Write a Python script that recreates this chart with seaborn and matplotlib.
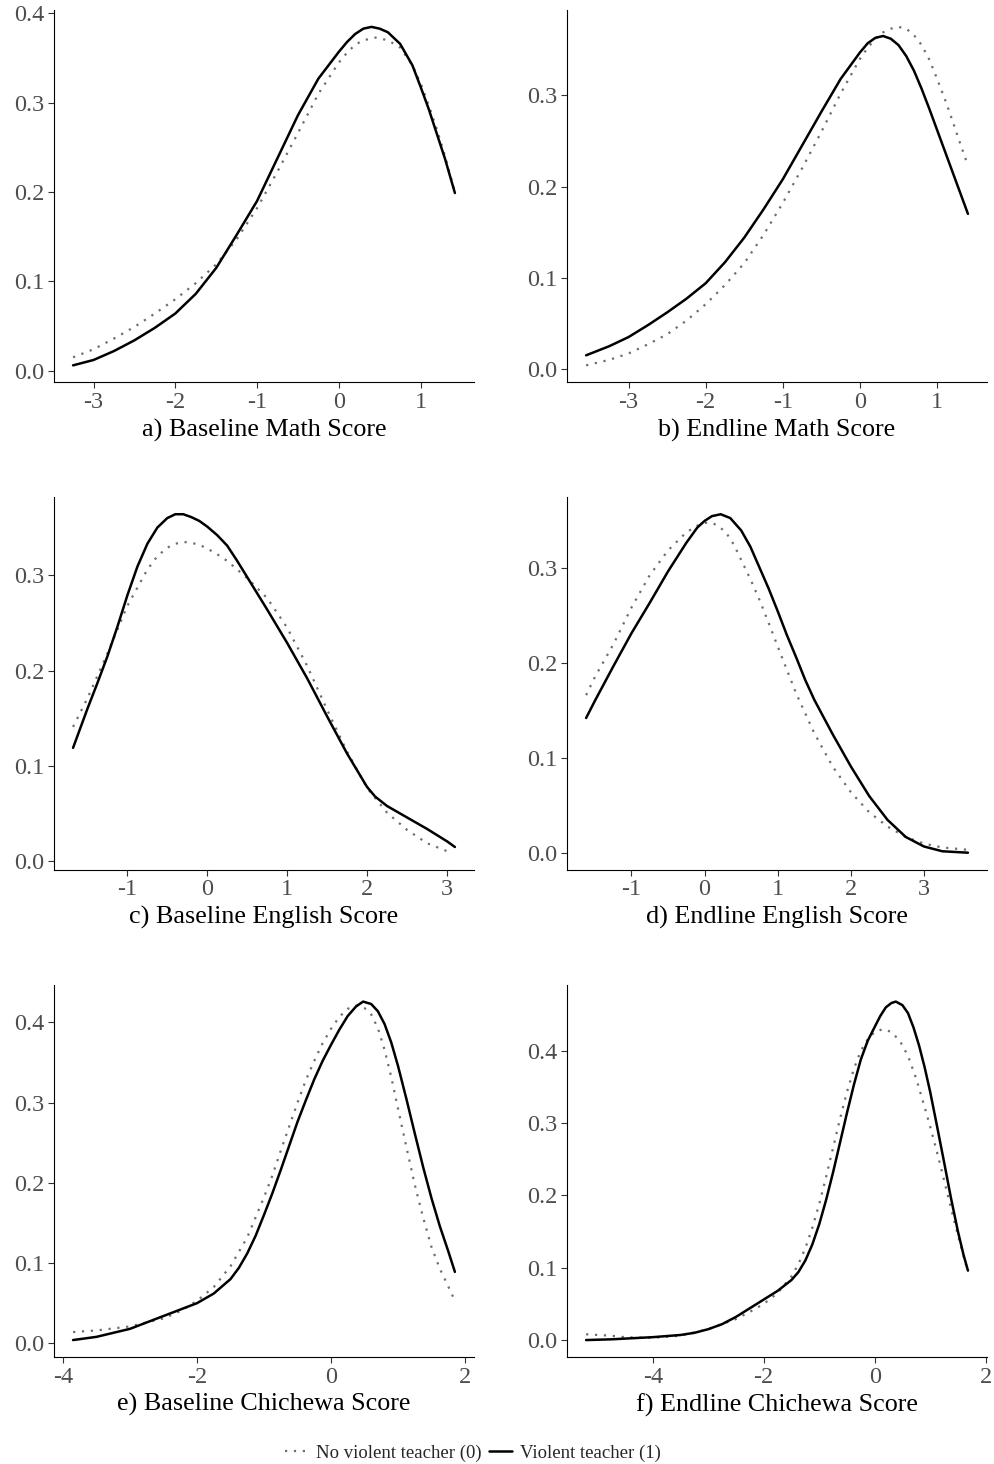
import matplotlib
matplotlib.use("Agg")
import matplotlib.pyplot as plt
from matplotlib.ticker import MultipleLocator, FormatStrFormatter
from matplotlib.lines import Line2D
import seaborn as sns

# Density curves: group 0 = no violent teacher, group 1 = violent teacher
# a) Baseline Math
a_x0 = [-3.25, -3.0, -2.75, -2.5, -2.25, -2.0, -1.75, -1.5, -1.25, -1.0, -0.75, -0.5, -0.25,
        0.0, 0.1, 0.2, 0.3, 0.45, 0.6, 0.75, 0.9, 1.0, 1.1, 1.2, 1.3, 1.42]
a_y0 = [0.015, 0.024, 0.036, 0.049, 0.064, 0.080, 0.098, 0.119, 0.147, 0.182, 0.223, 0.266, 0.310,
        0.345, 0.356, 0.365, 0.370, 0.373, 0.370, 0.362, 0.342, 0.322, 0.297, 0.270, 0.240, 0.200]
a_x1 = [-3.25, -3.0, -2.75, -2.5, -2.25, -2.0, -1.75, -1.5, -1.25, -1.0, -0.75, -0.5, -0.25,
        0.0, 0.1, 0.2, 0.3, 0.4, 0.5, 0.6, 0.75, 0.9, 1.0, 1.1, 1.2, 1.3, 1.42]
a_y1 = [0.006, 0.012, 0.022, 0.034, 0.048, 0.064, 0.086, 0.115, 0.152, 0.190, 0.238, 0.286, 0.327,
        0.357, 0.368, 0.377, 0.383, 0.385, 0.383, 0.379, 0.366, 0.342, 0.318, 0.293, 0.265, 0.237, 0.199]

# b) Endline Math
b_x0 = [-3.55, -3.25, -3.0, -2.75, -2.5, -2.25, -2.0, -1.75, -1.5, -1.25, -1.0, -0.75, -0.5,
        -0.25, 0.0, 0.1, 0.2, 0.3, 0.4, 0.5, 0.6, 0.7, 0.8, 0.9, 1.0, 1.1, 1.2, 1.3, 1.4]
b_y0 = [0.004, 0.010, 0.017, 0.027, 0.038, 0.053, 0.071, 0.092, 0.116, 0.147, 0.182, 0.220, 0.260,
        0.302, 0.340, 0.352, 0.362, 0.369, 0.373, 0.375, 0.373, 0.366, 0.355, 0.339, 0.318, 0.296,
        0.272, 0.247, 0.223]
b_x1 = [-3.55, -3.25, -3.0, -2.75, -2.5, -2.25, -2.0, -1.75, -1.5, -1.25, -1.0, -0.75, -0.5,
        -0.25, 0.0, 0.1, 0.2, 0.3, 0.4, 0.5, 0.6, 0.7, 0.8, 0.9, 1.0, 1.1, 1.2, 1.3, 1.4]
b_y1 = [0.015, 0.025, 0.035, 0.048, 0.062, 0.077, 0.094, 0.117, 0.144, 0.175, 0.208, 0.245, 0.282,
        0.318, 0.347, 0.357, 0.363, 0.365, 0.362, 0.355, 0.343, 0.327, 0.307, 0.285, 0.262, 0.239,
        0.216, 0.193, 0.170]

# c) Baseline English
c_x0 = [-1.68, -1.5, -1.25, -1.0, -0.875, -0.75, -0.625, -0.5, -0.4, -0.3, -0.2, -0.1, 0.0,
        0.125, 0.25, 0.5, 0.75, 1.0, 1.25, 1.5, 1.75, 2.0, 2.25, 2.5, 2.75, 3.05]
c_y0 = [0.141, 0.171, 0.218, 0.268, 0.287, 0.306, 0.320, 0.329, 0.333, 0.335, 0.334, 0.332, 0.328,
        0.322, 0.315, 0.297, 0.276, 0.245, 0.205, 0.159, 0.115, 0.077, 0.051, 0.033, 0.019, 0.009]
c_x1 = [-1.68, -1.5, -1.375, -1.25, -1.125, -1.0, -0.875, -0.75, -0.625, -0.5, -0.4, -0.3, -0.2,
        -0.1, 0.0, 0.125, 0.25, 0.375, 0.5, 0.75, 1.0, 1.25, 1.5, 1.75, 1.9, 2.0, 2.1, 2.25, 2.5,
        2.75, 3.0, 3.1]
c_y1 = [0.119, 0.160, 0.187, 0.215, 0.246, 0.279, 0.309, 0.333, 0.350, 0.360, 0.364, 0.364, 0.361,
        0.357, 0.351, 0.342, 0.331, 0.315, 0.298, 0.264, 0.229, 0.192, 0.152, 0.113, 0.092, 0.078,
        0.068, 0.058, 0.046, 0.034, 0.021, 0.015]

# d) Endline English
d_x0 = [-1.62, -1.5, -1.25, -1.0, -0.75, -0.5, -0.25, -0.1, 0.0, 0.1, 0.2, 0.3, 0.4, 0.5, 0.625,
        0.75, 0.875, 1.0, 1.25, 1.5, 1.75, 2.0, 2.25, 2.5, 2.75, 3.0, 3.25, 3.6]
d_y0 = [0.166, 0.185, 0.219, 0.258, 0.292, 0.318, 0.337, 0.344, 0.347, 0.347, 0.343, 0.336, 0.324,
        0.308, 0.288, 0.266, 0.242, 0.217, 0.168, 0.126, 0.091, 0.064, 0.043, 0.028, 0.017, 0.010,
        0.006, 0.0035]
d_x1 = [-1.62, -1.5, -1.25, -1.0, -0.75, -0.5, -0.25, -0.1, 0.0, 0.1, 0.22, 0.35, 0.5, 0.625,
        0.75, 0.875, 1.0, 1.125, 1.25, 1.375, 1.5, 1.75, 2.0, 2.25, 2.5, 2.75, 3.0, 3.25, 3.6]
d_y1 = [0.142, 0.160, 0.196, 0.231, 0.263, 0.296, 0.326, 0.342, 0.349, 0.354, 0.356, 0.352, 0.339,
        0.322, 0.300, 0.278, 0.254, 0.229, 0.206, 0.182, 0.161, 0.125, 0.091, 0.060, 0.035, 0.017,
        0.007, 0.002, 0.0005]

# e) Baseline Chichewa
e_x0 = [-3.85, -3.5, -3.0, -2.5, -2.25, -2.0, -1.75, -1.5, -1.25, -1.0, -0.875, -0.75, -0.625,
        -0.5, -0.375, -0.25, -0.125, 0.0, 0.125, 0.25, 0.375, 0.5, 0.6, 0.7, 0.8, 0.9, 1.0, 1.125,
        1.25, 1.375, 1.5, 1.625, 1.75, 1.85]
e_y0 = [0.014, 0.016, 0.021, 0.031, 0.040, 0.053, 0.070, 0.096, 0.132, 0.182, 0.209, 0.240, 0.270,
        0.300, 0.328, 0.352, 0.374, 0.392, 0.407, 0.417, 0.421, 0.418, 0.410, 0.393, 0.366, 0.332,
        0.293, 0.245, 0.198, 0.157, 0.120, 0.093, 0.071, 0.053]
e_x1 = [-3.85, -3.5, -3.0, -2.5, -2.0, -1.75, -1.5, -1.375, -1.25, -1.125, -1.0, -0.875, -0.75,
        -0.625, -0.5, -0.375, -0.25, -0.125, 0.0, 0.125, 0.25, 0.375, 0.48, 0.6, 0.7, 0.8, 0.9,
        1.0, 1.125, 1.25, 1.375, 1.5, 1.625, 1.75, 1.85]
e_y1 = [0.004, 0.008, 0.018, 0.034, 0.050, 0.062, 0.080, 0.094, 0.112, 0.134, 0.160, 0.187, 0.216,
        0.246, 0.276, 0.303, 0.329, 0.352, 0.372, 0.391, 0.408, 0.420, 0.426, 0.423, 0.414, 0.398,
        0.375, 0.346, 0.305, 0.262, 0.220, 0.181, 0.146, 0.115, 0.089]

# f) Endline Chichewa
f_x0 = [-5.2, -4.75, -4.5, -4.0, -3.5, -3.0, -2.5, -2.25, -2.0, -1.75, -1.5, -1.375, -1.25,
        -1.125, -1.0, -0.875, -0.75, -0.625, -0.5, -0.375, -0.25, -0.125, 0.0, 0.15, 0.3, 0.45,
        0.6, 0.75, 0.9, 1.0, 1.125, 1.25, 1.375, 1.5, 1.6, 1.68]
f_y0 = [0.008, 0.006, 0.004, 0.003, 0.006, 0.015, 0.029, 0.039, 0.050, 0.065, 0.088, 0.105, 0.127,
        0.155, 0.188, 0.226, 0.266, 0.306, 0.343, 0.375, 0.400, 0.416, 0.426, 0.430, 0.426, 0.414,
        0.393, 0.361, 0.322, 0.295, 0.259, 0.221, 0.182, 0.145, 0.116, 0.095]
f_x1 = [-5.2, -4.75, -4.5, -4.0, -3.5, -3.25, -3.0, -2.75, -2.5, -2.25, -2.0, -1.75, -1.5, -1.375,
        -1.25, -1.125, -1.0, -0.875, -0.75, -0.625, -0.5, -0.375, -0.25, -0.125, 0.0, 0.1, 0.2,
        0.3, 0.38, 0.5, 0.6, 0.7, 0.8, 0.9, 1.0, 1.125, 1.25, 1.375, 1.5, 1.6, 1.68]
f_y1 = [0.000, 0.001, 0.002, 0.004, 0.007, 0.010, 0.015, 0.022, 0.032, 0.044, 0.056, 0.068, 0.083,
        0.094, 0.110, 0.132, 0.160, 0.194, 0.232, 0.273, 0.314, 0.353, 0.388, 0.414, 0.433, 0.448,
        0.460, 0.466, 0.468, 0.463, 0.452, 0.432, 0.407, 0.377, 0.343, 0.295, 0.246, 0.196, 0.150,
        0.118, 0.096]

titles = ["a) Baseline Math Score", "b) Endline Math Score",
          "c) Baseline English Score", "d) Endline English Score",
          "e) Baseline Chichewa Score", "f) Endline Chichewa Score"]
x_steps = [1, 1, 1, 1, 2, 2]
group_labels = ["No violent teacher (0)", "Violent teacher (1)"]

panels = [(a_x0, a_y0, a_x1, a_y1), (b_x0, b_y0, b_x1, b_y1),
          (c_x0, c_y0, c_x1, c_y1), (d_x0, d_y0, d_x1, d_y1),
          (e_x0, e_y0, e_x1, e_y1), (f_x0, f_y0, f_x1, f_y1)]

sns.set_style("ticks")
plt.rcParams['font.family'] = ['Liberation Serif', 'DejaVu Serif']
plt.rcParams['axes.unicode_minus'] = False

dot_color = "#6e6e6e"
dot_style = (0, (1, 3))

fig, axes = plt.subplots(3, 2, figsize=(9.94, 14.64), dpi=100)
fig.subplots_adjust(left=0.0543, right=0.993, top=0.9932, bottom=0.0731,
                    wspace=0.2215, hspace=0.309)

for ax, (x0, y0, x1, y1), title, step in zip(axes.flat, panels, titles, x_steps):
    sns.lineplot(x=x0, y=y0, ax=ax, color=dot_color, linewidth=1.6,
                 linestyle=dot_style, sort=False, estimator=None)
    sns.lineplot(x=x1, y=y1, ax=ax, color="black", linewidth=1.8,
                 sort=False, estimator=None)
    ax.margins(0.05)
    ax.xaxis.set_major_locator(MultipleLocator(step))
    ax.yaxis.set_major_locator(MultipleLocator(0.1))
    ax.yaxis.set_major_formatter(FormatStrFormatter('%.1f'))
    ax.xaxis.set_major_formatter(FormatStrFormatter('%d'))
    ax.set_xlabel(title, fontsize=18.8, color="black", labelpad=4)
    ax.set_ylabel("")
    sns.despine(ax=ax)
    for sp in ["left", "bottom"]:
        ax.spines[sp].set_linewidth(0.8)
        ax.spines[sp].set_color("black")
    ax.tick_params(direction="out", length=4, width=0.8, color="#333333",
                   labelcolor="#4d4d4d", labelsize=17.5, pad=3)

handles = [Line2D([], [], color=dot_color, linewidth=1.6, linestyle=dot_style),
           Line2D([], [], color="black", linewidth=1.8)]
fig.legend(handles, group_labels, loc="center", bbox_to_anchor=(0.476, 0.0075),
           ncol=2, frameon=False, fontsize=13.5, handlelength=1.2,
           handletextpad=0.45, columnspacing=0.4)

fig.savefig("out.png", dpi=100)
